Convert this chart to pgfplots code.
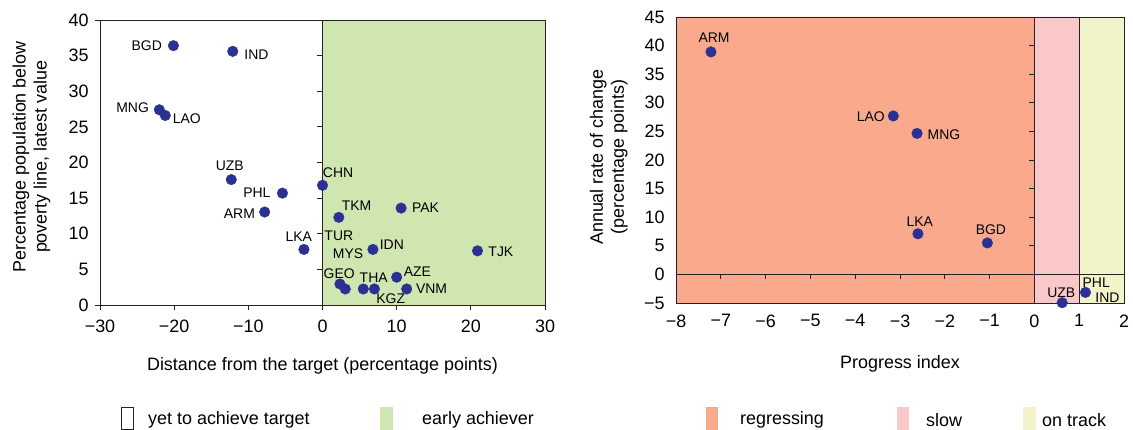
\documentclass[border=0pt]{standalone}
\usepackage{pgfplots}
\pgfplotsset{compat=1.18}
\usepackage{fontspec}
\setmainfont{Liberation Sans}
\definecolor{dotblue}{RGB}{43,49,146}
\definecolor{earlyg}{RGB}{207,230,176}
\definecolor{regr}{RGB}{249,169,140}
\definecolor{slowp}{RGB}{250,200,201}
\definecolor{ontr}{RGB}{242,243,201}
\definecolor{frm}{RGB}{35,35,35}
\newcommand\lab{\fontsize{14}{16}\selectfont}
\newcommand\bigf{\fontsize{18}{21}\selectfont}
\begin{document}
\begin{tikzpicture}
\path (0bp,0bp) rectangle (1133bp,430bp);
\pgfplotsset{
  every axis/.append style={
    scale only axis, set layers, clip=false,
    font=\bigf, ticklabel style={font=\bigf},
    axis line style={frm, line width=0.9bp},
    major tick length=5bp, tick align=outside,
    tick style={frm, line width=0.9bp},
    ytick style={draw=none},
    xtick pos=bottom, ytick pos=left,
  },
  dots/.style={only marks, mark=*, mark size=5.3bp, mark options={fill=dotblue, draw=dotblue}},
}
% ---------------- left panel ----------------
\begin{axis}[
  at={(100bp,125bp)}, anchor=south west,
  width=445bp, height=285bp,
  xmin=-30, xmax=30, ymin=0, ymax=40,
  xtick={-30,-20,-10,0,10,20,30},
  xticklabels={−30,−20,−10,0,10,20,30},
  ytick={0,5,...,40},
  yticklabels={0,5,10,15,20,25,30,35,40},
  xticklabel style={yshift=-6bp},
  yticklabel style={xshift=-3bp},
  xlabel={Distance from the target (percentage points)},
  xlabel style={at={(axis description cs:0.5,-0.213)}, anchor=center},
  ylabel={Percentage population below\\poverty line, latest value},
  ylabel style={at={(axis description cs:-0.154,0.52)}, anchor=center, align=center},
]
\addplot[draw=none, fill=earlyg, on layer=axis background] coordinates {(0,0) (30,0) (30,40) (0,40) (0,0)};
\draw[frm, line width=0.9bp] (axis cs:0,0) -- (axis cs:0,40);
\pgfplotsinvokeforeach{5,10,15,20,25,30,35}{\draw[frm, line width=0.9bp] (axis cs:0,#1) -- (axis cs:-0.68,#1);}
\draw[frm, line width=0.9bp] (axis cs:-30,0) -- (axis cs:-30.68,0);
\draw[frm, line width=0.9bp] (axis cs:-30,40) -- (axis cs:-30.68,40);
\addplot[dots] coordinates {
 (-20.1,36.4) (-12.1,35.6) (-22.0,27.4) (-21.2,26.6) (-12.3,17.6) (-5.4,15.7)
 (-7.8,13.05) (-2.5,7.8) (0,16.8) (2.2,12.3) (10.6,13.6) (6.8,7.8) (20.9,7.6)
 (10.0,3.9) (2.35,2.95) (3.07,2.25) (5.5,2.25) (7.0,2.25) (11.35,2.25)
};
\node[font=\lab] at (axis cs:-23.7,36.4) {BGD};
\node[font=\lab] at (axis cs:-8.9,35.1) {IND};
\node[font=\lab] at (axis cs:-25.6,27.75) {MNG};
\node[font=\lab] at (axis cs:-18.3,26.1) {LAO};
\node[font=\lab] at (axis cs:-12.5,19.6) {UZB};
\node[font=\lab] at (axis cs:-8.85,15.7) {PHL};
\node[font=\lab] at (axis cs:-11.2,12.8) {ARM};
\node[font=\lab] at (axis cs:-3.2,9.6) {LKA};
\node[font=\lab] at (axis cs:2.1,18.5) {CHN};
\node[font=\lab] at (axis cs:4.6,14.0) {TKM};
\node[font=\lab] at (axis cs:13.9,13.6) {PAK};
\node[font=\lab] at (axis cs:2.2,9.7) {TUR};
\node[font=\lab] at (axis cs:9.35,8.5) {IDN};
\node[font=\lab] at (axis cs:3.45,7.25) {MYS};
\node[font=\lab] at (axis cs:24.05,7.5) {TJK};
\node[font=\lab] at (axis cs:2.25,4.45) {GEO};
\node[font=\lab] at (axis cs:6.9,3.9) {THA};
\node[font=\lab] at (axis cs:12.8,4.7) {AZE};
\node[font=\lab] at (axis cs:14.7,2.25) {VNM};
\node[font=\lab] at (axis cs:9.2,0.9) {KGZ};
\end{axis}
% ---------------- right panel ----------------
\begin{axis}[
  at={(676bp,127bp)}, anchor=south west,
  width=448bp, height=286bp,
  xmin=-8, xmax=2, ymin=-5, ymax=45,
  xtick={-8,-7,...,2},
  xticklabels={−8,−7,−6,−5,−4,−3,−2,−1,0,1,2},
  ytick={-5,0,5,...,45},
  yticklabels={−5,0,5,10,15,20,25,30,35,40,45},
  xtick style={draw=none},
  xticklabel style={yshift=-3bp},
  yticklabel style={xshift=-3bp},
  xlabel={Progress index},
  xlabel style={at={(axis description cs:0.5,-0.213)}, anchor=center},
  ylabel={Annual rate of change\\(percentage points)},
  ylabel style={at={(axis description cs:-0.15,0.51)}, anchor=center, align=center},
]
\addplot[draw=none, fill=regr, on layer=axis background] coordinates {(-8,-5) (0,-5) (0,45) (-8,45) (-8,-5)};
\addplot[draw=none, fill=slowp, on layer=axis background] coordinates {(0,-5) (1,-5) (1,45) (0,45) (0,-5)};
\addplot[draw=none, fill=ontr, on layer=axis background] coordinates {(1,-5) (2,-5) (2,45) (1,45) (1,-5)};
\draw[frm, line width=0.9bp] (axis cs:0,-5) -- (axis cs:0,45);
\draw[frm, line width=0.9bp] (axis cs:1,-5) -- (axis cs:1,45);
\draw[frm, line width=0.9bp] (axis cs:-8,0) -- (axis cs:2,0);
\pgfplotsinvokeforeach{5,10,15,20,25,30,35,40}{\draw[frm, line width=0.9bp] (axis cs:0,#1) -- (axis cs:-0.11,#1);}
\pgfplotsinvokeforeach{-7,-6,-5,-4,-3,-2,-1}{\draw[frm, line width=0.9bp] (axis cs:#1,0) -- (axis cs:#1,-0.87);}
\addplot[dots] coordinates {
 (-7.22,38.9) (-3.15,27.7) (-2.62,24.65) (-2.6,7.1) (-1.05,5.5) (0.62,-4.95) (1.14,-3.15)
};
\node[font=\lab] at (axis cs:-7.15,41.3) {ARM};
\node[font=\lab] at (axis cs:-3.65,27.5) {LAO};
\node[font=\lab] at (axis cs:-2.02,24.5) {MNG};
\node[font=\lab] at (axis cs:-2.56,9.15) {LKA};
\node[font=\lab] at (axis cs:-0.97,7.75) {BGD};
\node[font=\lab] at (axis cs:0.6,-3.15) {UZB};
\node[font=\lab] at (axis cs:1.38,-1.5) {PHL};
\node[font=\lab] at (axis cs:1.63,-4.07) {IND};
\end{axis}
% ---------------- legend ----------------
\draw[frm, line width=0.9bp, fill=white] (121bp,0.5bp) rectangle (133bp,23bp);
\node[font=\bigf, anchor=west, inner sep=0] at (148bp,10bp) {yet to achieve target};
\fill[earlyg] (380bp,0bp) rectangle (393bp,23bp);
\node[font=\bigf, anchor=west, inner sep=0] at (422bp,10bp) {early achiever};
\fill[regr] (706bp,0bp) rectangle (718bp,23bp);
\node[font=\bigf, anchor=west, inner sep=0] at (740bp,10bp) {regressing};
\fill[slowp] (897bp,0bp) rectangle (909bp,23bp);
\node[font=\bigf, anchor=west, inner sep=0] at (926bp,10bp) {slow};
\fill[ontr] (1023bp,0bp) rectangle (1036bp,23bp);
\node[font=\bigf, anchor=west, inner sep=0] at (1042bp,10bp) {on track};
\end{tikzpicture}
\end{document}
